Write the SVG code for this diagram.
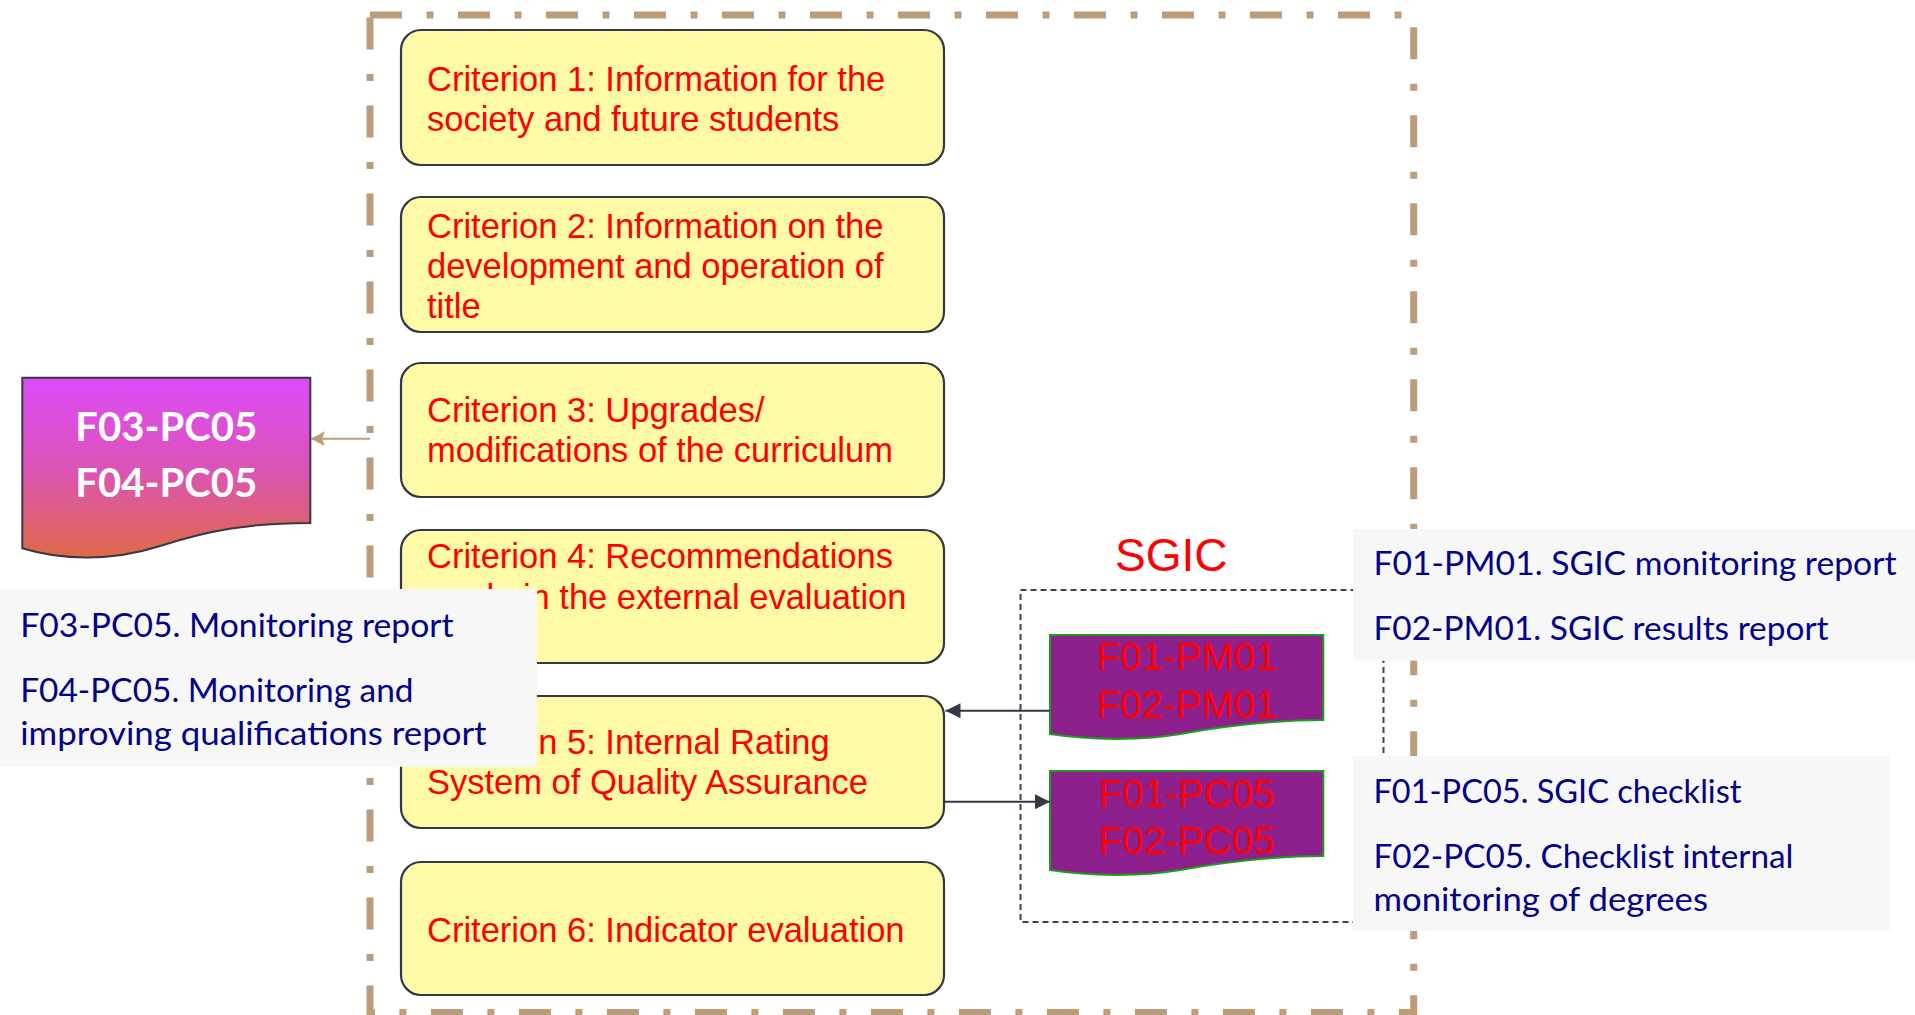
<svg xmlns="http://www.w3.org/2000/svg" width="1915" height="1015" viewBox="0 0 1915 1015">
  <defs>
    <style>
      .frame { fill: none; stroke: #bd9d79; stroke-width: 7; stroke-dasharray: 32 24.5 7 24.5; }
      .crit { fill: #fffaa8; stroke: #343845; stroke-width: 2.2; }
      .crit-text { font-family: "Liberation Sans", Arial, sans-serif; font-size: 34.5px; fill: #ff0000; }
      .doc { fill: #8e208e; stroke: #1a9e1a; stroke-width: 2; }
      .doc-text { font-family: "Liberation Sans", Arial, sans-serif; font-size: 38.6px; fill: #ff0000; text-anchor: middle; }
      .sgic-box { fill: none; stroke: #3d4250; stroke-width: 2; stroke-dasharray: 6 4; }
      .note { fill: #f7f7f7; }
      .note-text { font-family: Lato, "Open Sans", sans-serif; font-size: 32px; fill: #02028c; }
      .link { fill: none; stroke: #343844; stroke-width: 2; }
      .link-tan { fill: none; stroke: #bd9d79; stroke-width: 2; }
    </style>
    <linearGradient id="docGrad" x1="0" y1="0" x2="0" y2="1">
      <stop offset="0" stop-color="#dc4cf8"/>
      <stop offset="0.5" stop-color="#dc53b8"/>
      <stop offset="1" stop-color="#de6a48"/>
    </linearGradient>
    <marker id="headDark" viewBox="0 0 15 15" refX="15" refY="7.5" markerWidth="15" markerHeight="15" markerUnits="userSpaceOnUse" orient="auto">
      <path d="M0,0 L15,7.5 L0,15 Z" fill="#343844"/>
    </marker>
    <marker id="headTan" viewBox="0 0 14 15" refX="14" refY="7.5" markerWidth="14" markerHeight="15" markerUnits="userSpaceOnUse" orient="auto">
      <path d="M0,0 L14,7.5 L0,15 L3,7.5 Z" fill="#bd9d79"/>
    </marker>
  </defs>

  <rect width="1915" height="1015" fill="#ffffff"/>

  <!-- dash-dot frame around the criteria -->
  <rect id="frame" class="frame" x="370" y="15" width="1043.7" height="997.5"/>

  <!-- criteria -->
  <g id="criterion1">
    <rect class="crit" x="401" y="30" width="543" height="135" rx="20"/>
    <text class="crit-text" x="427" y="91">Criterion 1: Information for the</text>
    <text class="crit-text" x="427" y="131">society and future students</text>
  </g>
  <g id="criterion2">
    <rect class="crit" x="401" y="197" width="543" height="135" rx="20"/>
    <text class="crit-text" x="427" y="238">Criterion 2: Information on the</text>
    <text class="crit-text" x="427" y="278">development and operation of</text>
    <text class="crit-text" x="427" y="318">title</text>
  </g>
  <g id="criterion3">
    <rect class="crit" x="401" y="363" width="543" height="134" rx="20"/>
    <text class="crit-text" x="427" y="422">Criterion 3: Upgrades/</text>
    <text class="crit-text" x="427" y="462">modifications of the curriculum</text>
  </g>
  <g id="criterion4">
    <rect class="crit" x="401" y="530" width="543" height="133" rx="20"/>
    <text class="crit-text" x="427" y="568">Criterion 4: Recommendations</text>
    <text class="crit-text" x="427" y="609">made in the external evaluation</text>
  </g>
  <g id="criterion5">
    <rect class="crit" x="401" y="696" width="543" height="132" rx="20"/>
    <text class="crit-text" x="427" y="754">Criterion 5: Internal Rating</text>
    <text class="crit-text" x="427" y="794">System of Quality Assurance</text>
  </g>
  <g id="criterion6">
    <rect class="crit" x="401" y="862" width="543" height="133" rx="20"/>
    <text class="crit-text" x="427" y="942">Criterion 6: Indicator evaluation</text>
  </g>

  <!-- monitoring documents -->
  <g id="doc-pc05">
    <path d="M22.3,377.7 H310.3 V523 C250,523 210,530 160,546 C110,562 60,560 22.3,548.3 Z" fill="url(#docGrad)" stroke="#333a45" stroke-width="2"/>
    <text x="166.3" y="441" font-family="Lato, 'Open Sans', sans-serif" font-weight="bold" font-size="40.5" fill="#ffffff" text-anchor="middle" textLength="182" lengthAdjust="spacingAndGlyphs">F03-PC05</text>
    <text x="166.3" y="496.7" font-family="Lato, 'Open Sans', sans-serif" font-weight="bold" font-size="40.5" fill="#ffffff" text-anchor="middle" textLength="182" lengthAdjust="spacingAndGlyphs">F04-PC05</text>
  </g>

  <!-- SGIC group -->
  <g id="sgic">
    <rect class="sgic-box" x="1020.5" y="590" width="363" height="332"/>
    <text x="1115" y="571" font-family="'Liberation Sans', Arial, sans-serif" font-size="46" fill="#ff0000">SGIC</text>
  </g>
  <g id="doc-pm01">
    <path class="doc" d="M1050,635 H1323.3 V720 C1270,720 1220,727 1180,734 C1140,741 1090,740 1050,734 Z"/>
    <text class="doc-text" x="1186.7" y="670">F01-PM01</text>
    <text class="doc-text" x="1186.7" y="717.7">F02-PM01</text>
  </g>
  <g id="doc-pc05-sgic">
    <path class="doc" d="M1050,771 H1323.3 V856 C1270,856 1220,863 1180,870 C1140,877 1090,876 1050,870 Z"/>
    <text class="doc-text" x="1186.7" y="806.7">F01-PC05</text>
    <text class="doc-text" x="1186.7" y="854.3">F02-PC05</text>
  </g>

  <!-- connectors -->
  <g id="connectors">
    <line class="link-tan" x1="370" y1="438.7" x2="311" y2="438.7" marker-end="url(#headTan)"/>
    <line class="link" x1="1050" y1="710.7" x2="945.5" y2="710.7" marker-end="url(#headDark)"/>
    <line class="link" x1="945" y1="801.7" x2="1050" y2="801.7" marker-end="url(#headDark)"/>
  </g>

  <!-- legend notes -->
  <g id="note-left">
    <rect class="note" x="0" y="589" width="537" height="177.7"/>
    <text class="note-text" x="20.2" y="637.3" textLength="433.4" lengthAdjust="spacingAndGlyphs">F03-PC05. Monitoring report</text>
    <text class="note-text" x="20.2" y="702.3" textLength="393.4" lengthAdjust="spacingAndGlyphs">F04-PC05. Monitoring and</text>
    <text class="note-text" x="20.2" y="745" textLength="466.4" lengthAdjust="spacingAndGlyphs">improving qualifications report</text>
  </g>
  <g id="note-pm01">
    <rect class="note" x="1353" y="529" width="562" height="131.7"/>
    <text class="note-text" x="1373.4" y="575" textLength="523.2" lengthAdjust="spacingAndGlyphs">F01-PM01. SGIC monitoring report</text>
    <text class="note-text" x="1373.4" y="640" textLength="455.2" lengthAdjust="spacingAndGlyphs">F02-PM01. SGIC results report</text>
  </g>
  <g id="note-pc05">
    <rect class="note" x="1353" y="756" width="536.7" height="175"/>
    <text class="note-text" x="1373.4" y="802.7" textLength="368" lengthAdjust="spacingAndGlyphs">F01-PC05. SGIC checklist</text>
    <text class="note-text" x="1373.4" y="867.7" textLength="420" lengthAdjust="spacingAndGlyphs">F02-PC05. Checklist internal</text>
    <text class="note-text" x="1373.4" y="910.7" textLength="334.6" lengthAdjust="spacingAndGlyphs">monitoring of degrees</text>
  </g>
</svg>
